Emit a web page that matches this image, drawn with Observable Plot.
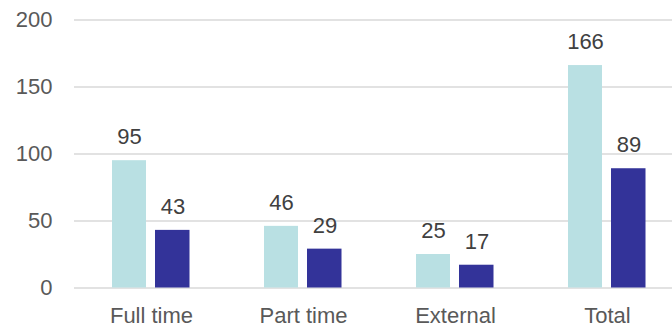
<!DOCTYPE html>
<html>
<head>
<meta charset="utf-8">
<script src="https://cdn.jsdelivr.net/npm/d3@7"></script>
<script src="https://cdn.jsdelivr.net/npm/@observablehq/plot@0.6"></script>
<style>
  html, body { margin: 0; padding: 0; background: #fff; }
  #chart svg { display: block; }
</style>
</head>
<body>
<div id="chart"></div>
<script>
// Enrolment categories and the two compared series
const categories = ["Full time", "Part time", "External", "Total"];
const firstSeries = [95, 46, 25, 166];
const secondSeries = [43, 29, 17, 89];
const yTicks = [0, 50, 100, 150, 200];

const lightColor = "#b9e0e3";
const darkColor = "#333399";

const rowsFirst = categories.map((c, i) => ({category: c, value: firstSeries[i]}));
const rowsSecond = categories.map((c, i) => ({category: c, value: secondSeries[i]}));

const font = "'Liberation Sans', Arial, sans-serif";
const size = 22;

const chart = Plot.plot({
  width: 672,
  height: 328,
  marginTop: 19.5,
  marginBottom: 40.5,
  marginLeft: 74,
  marginRight: 0,
  style: {fontFamily: font, fontSize: size + "px", background: "#fff"},
  x: {domain: categories, range: [74, 684.5], padding: 0, label: null},
  y: {domain: [0, 200], label: null},
  marks: [
    Plot.ruleY(yTicks, {stroke: "#d9d9d9", strokeWidth: 1.3}),
    Plot.barY(rowsFirst, {x: "category", y: "value", fill: lightColor, insetLeft: 37, insetRight: 81}),
    Plot.barY(rowsSecond, {x: "category", y: "value", fill: darkColor, insetLeft: 80, insetRight: 37.5}),
    Plot.text(rowsFirst, {x: "category", y: "value", text: d => String(d.value), dx: -22, dy: -16.5, lineAnchor: "bottom", fill: "#404040", fontSize: size}),
    Plot.text(rowsSecond, {x: "category", y: "value", text: d => String(d.value), dx: 21.5, dy: -16.5, lineAnchor: "bottom", fill: "#404040", fontSize: size}),
    Plot.axisY({ticks: yTicks, tickSize: 0, tickPadding: 22, color: "#595959", fontSize: size, label: null}),
    Plot.axisX({tickSize: 0, tickPadding: 19.5, color: "#595959", fontSize: size, label: null})
  ]
});

document.getElementById("chart").appendChild(chart);
</script>
</body>
</html>
